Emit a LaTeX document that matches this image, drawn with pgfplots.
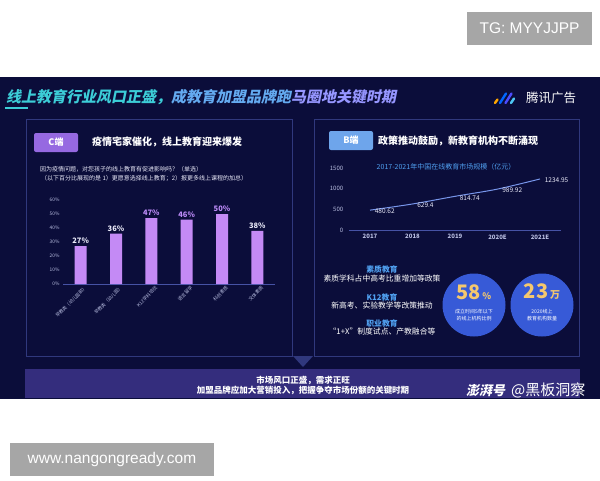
\documentclass[border=0pt]{standalone}
\usepackage{pgfplots}
\pgfplotsset{compat=1.18}
\usepackage{pgfplotstable}
\usepackage{fontspec}
\setmainfont{Noto Sans CJK SC}
\newfontfamily\latinfont{Liberation Sans}
\newfontfamily\titlefont[FakeSlant=0.2]{Noto Sans CJK SC}
\definecolor{bg}{RGB}{11,13,58}
\definecolor{panelb}{RGB}{48,56,125}
\definecolor{barc}{RGB}{196,138,245}
\definecolor{labw}{RGB}{235,235,250}
\definecolor{labp}{RGB}{190,140,250}
\definecolor{tteal}{RGB}{60,205,215}
\definecolor{tmid}{RGB}{100,170,240}
\definecolor{tlav}{RGB}{150,150,255}
\definecolor{cbox}{RGB}{150,105,225}
\definecolor{bbox}{RGB}{110,165,235}
\definecolor{blueh}{RGB}{80,160,240}
\definecolor{circc}{RGB}{55,90,215}
\definecolor{gold}{RGB}{245,200,110}
\definecolor{banner}{RGB}{52,45,125}
\definecolor{linec}{RGB}{120,150,235}
\definecolor{tickc}{RGB}{185,190,225}
\definecolor{axc}{RGB}{70,82,165}
\definecolor{wmgray}{RGB}{166,166,166}
\newcommand{\fs}[1]{\fontsize{#1}{#1}\selectfont}
\pgfplotstableread{
x y c
0 27 labw
1 36 labw
2 47 labp
3 46 labp
4 50 labp
5 38 labw
}\bardata
\pgfplotstableread{
x y
0 480.62
1 629.4
2 814.74
3 989.92
4 1234.95
}\linedata
\begin{document}
\begin{tikzpicture}[x=1pt,y=-1pt]
\fill[white] (0,0) rectangle (600,480);
% watermarks
\fill[wmgray] (467,12) rectangle (592,45);
\node[text=white] at (529.5,28.5) {\latinfont\fs{15.5}TG: MYYJJPP};
\fill[wmgray] (10,443) rectangle (214,476);
\node[text=white] at (112,459.5) {\latinfont\fs{15.5}www.nangongready.com};
% dark background
\fill[bg] (0,77) rectangle (600,399);
% header
\node[anchor=west, inner sep=0] at (6,97) {\titlefont\bfseries\fs{15}\textcolor{tteal}{线上教育行业风口正盛，}\textcolor{tmid}{成教育加盟品牌跑}\textcolor{tlav}{马圈地关键时期}};
\draw[tteal, line width=1.2pt] (5,108) -- (28,108);
% logo
\draw[line width=2.4pt, line cap=round, orange!70!yellow] (495,103) -- (497.5,99.5);
\draw[line width=2.4pt, line cap=round, blue!60!cyan] (500,103) -- (506,93.5);
\draw[line width=2.4pt, line cap=round, blue!70!white] (505.5,103) -- (511.5,93.5);
\draw[line width=2.4pt, line cap=round, cyan!70!white] (511,103) -- (514,98.5);
\node[anchor=west, text=white, inner sep=0] at (526,98) {\fs{12.5}腾讯广告};
% panels
\draw[panelb, line width=0.8pt] (26,119) rectangle (292,356);
\draw[panelb, line width=0.8pt] (314,119) rectangle (579,356);
% C-side header
\fill[cbox, rounded corners=2pt] (34,133) rectangle (78,152);
\node[text=white] at (56,142.5) {\bfseries\fs{9}C端};
\node[anchor=west, text=white, inner sep=0] at (92,142) {\bfseries\fs{10}疫情宅家催化，线上教育迎来爆发};
\node[anchor=west, text=labw, inner sep=0] at (40,169) {\fs{6}因为疫情问题，对您孩子的线上教育有促进影响吗？（单选）};
\node[anchor=west, text=labw, inner sep=0] at (41,178) {\fs{6}（以下百分比展现的是 1）更愿意选择线上教育；2）报更多线上课程的加总）};
% B-side header
\fill[bbox, rounded corners=2pt] (329,131) rectangle (373,150);
\node[text=white] at (351,140.5) {\bfseries\fs{9}B端};
\node[anchor=west, text=white, inner sep=0] at (378,141) {\bfseries\fs{10}政策推动鼓励，新教育机构不断涌现};
\node[text=blueh] at (446,167) {\fs{7}2017-2021年中国在线教育市场规模（亿元）};
% coordinates for axes
\coordinate (bco) at (63,284);
\coordinate (lco) at (348.75,230);
\begin{axis}[at={(bco)}, anchor=south west, scale only axis,
  width=212pt, height=84pt,
  xmin=-0.5, xmax=5.5, ymin=0, ymax=60,
  axis x line*=bottom, axis y line*=left,
  y axis line style={draw=none},
  x axis line style={draw=axc, line width=1pt, -},
  major tick length=0pt,
  ytick={0,10,...,60},
  yticklabel={\pgfmathprintnumber{\tick}\%},
  yticklabel style={font=\fs{4.8}, text=tickc},
  xtick=data,
  xticklabels={早教类（幼儿园前）,早教类（幼儿园）,K12学科培优,语言留学,科创素质,文体素质},
  xticklabel style={font=\fs{4.6}, text=tickc, rotate=45, anchor=north east, inner sep=0.5pt, xshift=2pt, yshift=-3pt},
  /pgf/number format/assume math mode=true,
  ybar, bar width=12pt,
  clip=false]
\addplot[fill=barc, draw=none,
  point meta=explicit symbolic,
  visualization depends on={rawy \as \ry},
  nodes near coords={\textcolor{\pgfplotspointmeta}{\pgfmathprintnumber[fixed,precision=0]{\ry}\%}},
  nodes near coords style={font=\bfseries\fs{7.5}, inner sep=2pt},
  /pgf/number format/assume math mode=true]
  table[x=x, y=y, meta=c] {\bardata};
\end{axis}
\begin{axis}[at={(lco)}, anchor=south west, scale only axis,
  width=212.5pt, height=62pt,
  xmin=-0.5, xmax=4.5, ymin=0, ymax=1500,
  axis x line*=bottom, axis y line*=left,
  y axis line style={draw=none},
  x axis line style={draw=axc, line width=0.8pt, -},
  major tick length=0pt,
  ytick={0,500,1000,1500},
  yticklabel style={font=\fs{6}, text=tickc, xshift=-2pt},
  xtick=data,
  xticklabels={2017,2018,2019,2020E,2021E},
  xticklabel style={font=\bfseries\fs{6}, text=tickc, yshift=-1pt},
  /pgf/number format/1000 sep={},
  /pgf/number format/assume math mode=true,
  clip=false]
\addplot[linec, line width=1pt, smooth, no marks,
  nodes near coords,
  nodes near coords style={font=\fs{6.5}, text=labw, anchor=west, xshift=1pt, yshift=-1.5pt},
  /pgf/number format/1000 sep={},
  /pgf/number format/assume math mode=true]
  table[x=x, y=y] {\linedata};
\end{axis}
% lower right texts
\node[text=blueh] at (382,269) {\bfseries\fs{7.8}素质教育};
\node[text=white] at (382,279) {\fs{7.8}素质学科占中高考比重增加等政策};
\node[text=blueh] at (382,297) {\bfseries\fs{7.8}K12教育};
\node[text=white] at (382,306) {\fs{7.8}新高考、实验教学等改策推动};
\node[text=blueh] at (382,323) {\bfseries\fs{7.8}职业教育};
\node[text=white] at (382,332) {\fs{7.8}“1+X”制度试点、产教融合等};
% circles
\fill[circc] (474,305) circle[radius=31.5];
\fill[circc] (542,305) circle[radius=31.5];
\node[text=gold, inner sep=0] at (474,292) {\bfseries\fs{20}58\fs{9}\,\%};
\node[text=white] at (474,312) {\fs{5}成立时间5年以下};
\node[text=white] at (474,319) {\fs{5}的线上机构比例};
\node[text=gold, inner sep=0] at (542,292) {\bfseries\fs{20}23\fs{10}\,万};
\node[text=white] at (542,312) {\fs{5}2020线上};
\node[text=white] at (542,319) {\fs{5}教育机构数量};
% arrow and banner
\fill[panelb] (293,356) -- (313,356) -- (303,367) -- cycle;
\fill[banner] (25,369) rectangle (580,398);
\node[text=white] at (303,380) {\bfseries\fs{8.5}市场风口正盛，需求正旺};
\node[text=white] at (303,390) {\bfseries\fs{8.5}加盟品牌应加大营销投入，把握争夺市场份额的关键时期};
\node[anchor=west, text=white, inner sep=0] at (466,390) {\titlefont\bfseries\fs{13}澎湃号\ \ \normalfont\fs{15}@黑板洞察};
\end{tikzpicture}
\end{document}
